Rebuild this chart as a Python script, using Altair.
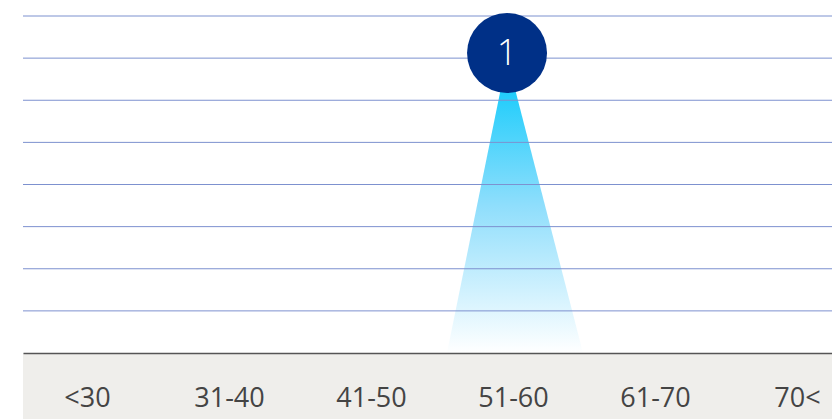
import altair as alt
import pandas as pd

categories = ["<30", "31-40", "41-50", "51-60", "61-70", "70<"]
category_index = [0, 1, 2, 3, 4, 5]

# spike (triangle) outline: x in category-index units, y value
spike_x = [2.535, 2.958, 3.493]
spike_y = [0, 7, 0]

# marker circle
marker_x = [2.958]
marker_y = [7.12]
marker_label = ["1"]

grid_values = [1, 2, 3, 4, 5, 6, 7, 8]

W, H = 809, 337
x_scale = alt.Scale(domain=[-0.4507, 5.2465], nice=False, zero=False)
y_scale = alt.Scale(domain=[0, 8], nice=False)

label_array = "[" + ",".join("'" + c + "'" for c in categories) + "]"

spike_df = pd.DataFrame({"x": spike_x, "y": spike_y})
marker_df = pd.DataFrame({"x": marker_x, "y": marker_y, "label": marker_label})
grid_df = pd.DataFrame({"y": grid_values})

band = alt.Chart(pd.DataFrame({"a": [0]})).mark_rect(color="#efeeeb").encode(
    x=alt.value(0), x2=alt.value(W), y=alt.value(H), y2=alt.value(H + 80)
)

spike = alt.Chart(spike_df).mark_area(
    color=alt.Gradient(
        gradient="linear",
        stops=[
            alt.GradientStop(color="#00c8fb", offset=0),
            alt.GradientStop(color="#8fdefc", offset=0.5),
            alt.GradientStop(color="#ffffff", offset=1),
        ],
        x1=0, x2=0, y1=0, y2=1,
    ),
    orient="vertical",
).encode(
    x=alt.X(
        "x:Q",
        scale=x_scale,
        axis=alt.Axis(
            values=category_index,
            labelExpr=label_array + "[datum.value]",
            grid=False,
            ticks=False,
            title=None,
            domainColor="#555555",
            domainWidth=1.5,
            labelFontSize=27,
            labelColor="#444444",
            labelBaseline="middle",
            labelPadding=45,
            labelFont="Open Sans",
            zindex=2,
        ),
    ),
    y=alt.Y("y:Q", scale=y_scale, axis=None),
)

grid = alt.Chart(grid_df).mark_rule(color="#7d91cf", strokeWidth=1).encode(
    y=alt.Y("y:Q", scale=y_scale)
)

circle = alt.Chart(marker_df).mark_circle(size=6400, color="#003087", opacity=1).encode(
    x=alt.X("x:Q", scale=x_scale),
    y=alt.Y("y:Q", scale=y_scale),
)

text = alt.Chart(marker_df).mark_text(
    color="white", fontSize=36, fontWeight=300, font="Open Sans", baseline="middle", dy=1
).encode(
    x=alt.X("x:Q", scale=x_scale),
    y=alt.Y("y:Q", scale=y_scale),
    text="label:N",
)

chart = alt.layer(band, spike, grid, circle, text).properties(
    width=W,
    height=H,
    autosize=alt.AutoSizeParams(type="none"),
    padding={"left": 15, "top": 8, "right": 0, "bottom": 75},
).configure_view(stroke=None)

chart.save("out.html", embed_options={"renderer": "svg", "actions": False})
